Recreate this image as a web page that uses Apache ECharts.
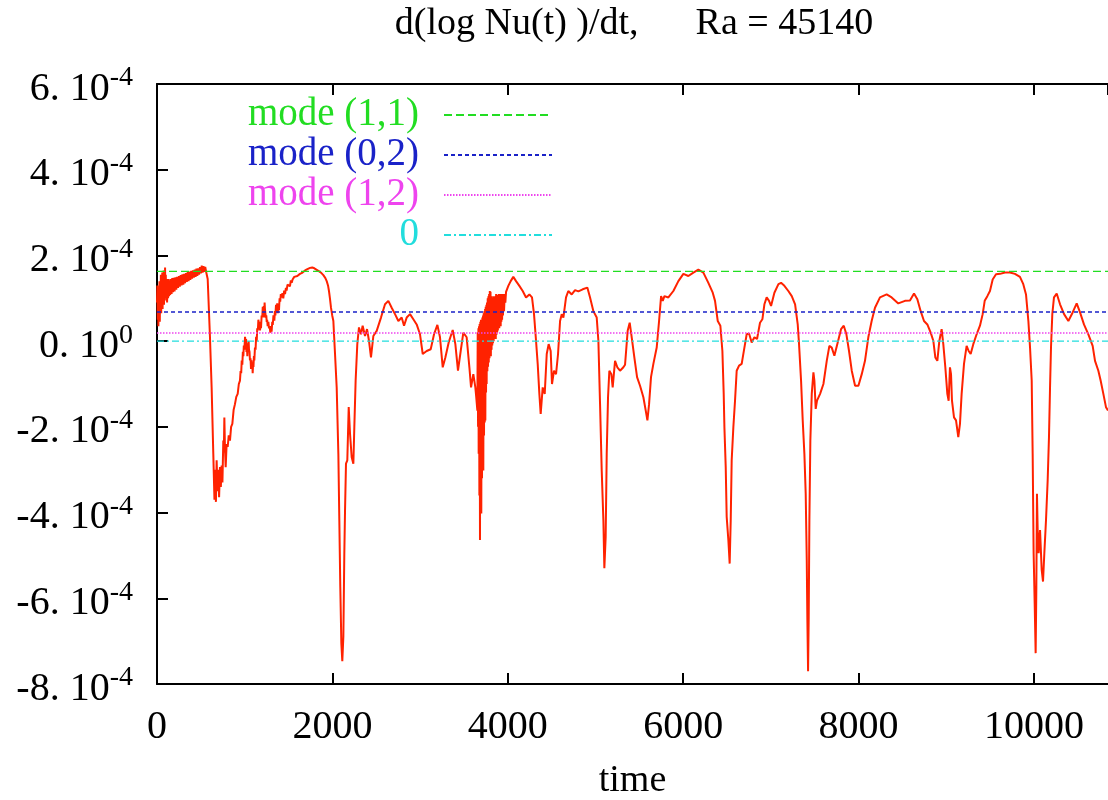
<!DOCTYPE html>
<html>
<head>
<meta charset="utf-8">
<title>d(log Nu(t) )/dt</title>
<script src="https://cdn.jsdelivr.net/npm/echarts@6/dist/echarts.min.js"></script>
<style>
  * { margin: 0; padding: 0; }
  body { background: #fff; }
  #main { width: 1108px; height: 800px; }
</style>
</head>
<body>
<div id="main"></div>
<script>
// [time, d(log Nu)/dt in units of 1e-4]
let nuCurve = [
  [0, 0.9], [4, 1.3], [8, 0.5], [12, 1.2], [16, 0.35], [20, 1.05], [24, 0.6], [28, 1.4], [32, 0.45], [36, 1.3],
  [40, 0.7], [44, 1.55], [48, 0.65], [52, 1.45], [56, 0.8], [60, 1.6], [64, 0.75], [68, 1.5], [72, 0.9], [76, 1.65],
  [80, 0.85], [84, 1.5], [88, 1.0], [92, 1.72], [96, 1.0], [100, 1.55], [105, 0.95], [110, 1.45], [115, 0.9], [120, 1.4],
  [126, 1.0], [132, 1.45], [138, 1.05], [144, 1.42], [150, 1.08], [158, 1.45], [166, 1.1], [174, 1.47], [182, 1.14],
  [190, 1.48], [200, 1.16], [210, 1.49], [220, 1.2], [230, 1.5], [240, 1.24], [250, 1.52], [260, 1.27], [270, 1.54],
  [280, 1.3], [290, 1.56], [300, 1.32], [310, 1.57], [320, 1.35], [330, 1.59], [340, 1.38], [350, 1.61], [360, 1.4],
  [370, 1.62], [380, 1.43], [390, 1.64], [400, 1.46], [410, 1.65], [420, 1.48], [430, 1.67], [440, 1.5], [450, 1.69],
  [460, 1.52], [470, 1.7], [480, 1.55], [490, 1.73], [500, 1.58], [510, 1.76], [520, 1.6], [530, 1.75], [540, 1.62],
  [550, 1.73], [560, 1.62], [570, 1.58], [578, 1.45],
  [604, 0.09], [623, -1.08], [642, -2.63], [655, -3.7], [664, -3.0], [672, -3.75], [680, -2.78], [690, -3.5],
  [699, -3.0], [708, -3.64], [718, -2.94], [728, -3.4], [737, -2.9], [746, -3.3], [756, -2.32], [762, -2.6],
  [768, -1.78], [775, -2.5], [783, -2.94], [794, -2.4], [806, -2.47], [818, -2.2], [832, -2.32], [845, -2.0],
  [859, -1.93], [874, -1.6], [889, -1.47], [904, -1.3], [920, -1.23], [933, -1.0], [946, -0.92], [953, -0.7],
  [960, -0.75], [966, -0.45], [973, -0.55], [979, -0.25], [985, -0.35], [990, -0.1], [996, -0.2], [1004, 0.1],
  [1011, -0.05], [1016, 0.05], [1020, -0.25], [1025, -0.1], [1030, -0.35], [1035, -0.05], [1040, -0.1], [1045, 0.0],
  [1049, -0.2], [1055, -0.25], [1060, -0.45], [1066, -0.4], [1072, -0.65], [1077, -0.45], [1082, -0.6], [1087, -0.55],
  [1091, -0.75], [1096, -0.5], [1100, -0.6], [1105, -0.35], [1110, -0.45], [1117, -0.15], [1124, -0.2], [1130, 0.1],
  [1137, 0.0], [1143, 0.3], [1150, 0.25], [1156, 0.5], [1163, 0.4], [1169, 0.45], [1175, 0.25], [1180, 0.45],
  [1186, 0.3], [1193, 0.6], [1200, 0.55], [1206, 0.8], [1213, 0.7], [1218, 0.82], [1222, 0.55], [1227, 0.9],
  [1231, 0.75], [1236, 0.75], [1241, 0.55], [1246, 0.6], [1251, 0.45], [1256, 0.5], [1262, 0.35], [1270, 0.45],
  [1277, 0.3], [1285, 0.35], [1292, 0.2], [1300, 0.35], [1307, 0.22], [1314, 0.45], [1320, 0.38], [1328, 0.6],
  [1338, 0.48], [1344, 0.7], [1350, 0.6], [1357, 0.85], [1365, 0.78], [1371, 0.88], [1378, 0.65], [1385, 0.82],
  [1391, 0.72], [1398, 1.0], [1405, 0.92], [1412, 1.1], [1422, 1.02], [1430, 1.12], [1440, 1.0], [1450, 1.18],
  [1460, 1.1], [1470, 1.24], [1478, 1.18], [1488, 1.32], [1497, 1.28], [1506, 1.36], [1516, 1.28], [1526, 1.42],
  [1536, 1.36], [1546, 1.44], [1555, 1.4], [1565, 1.5], [1574, 1.46], [1600, 1.52], [1630, 1.57], [1660, 1.6],
  [1688, 1.65], [1715, 1.68], [1745, 1.71], [1770, 1.72], [1794, 1.7], [1815, 1.68], [1840, 1.64], [1870, 1.6],
  [1897, 1.54], [1920, 1.47], [1935, 1.4], [1950, 1.3], [1961, 1.17], [1972, 1.0], [1984, 0.78], [1998, 0.6],
  [2011, 0.47], [2020, 0.1], [2030, -0.3], [2049, -1.08], [2068, -2.63], [2079, -4.18], [2090, -5.73], [2102, -7.05],
  [2113, -7.47], [2125, -6.89], [2136, -4.95], [2144, -3.95], [2155, -2.86], [2170, -2.78], [2186, -1.54], [2201, -2.16],
  [2220, -2.71], [2239, -2.86], [2250, -2.01], [2265, -0.92], [2284, -0.07], [2303, 0.32], [2326, 0.16], [2345, 0.36],
  [2372, 0.12], [2395, 0.28], [2417, 0.01], [2440, -0.38], [2467, 0.12], [2505, 0.24], [2554, 0.55], [2600, 0.86],
  [2638, 0.94], [2657, 0.9], [2676, 0.78], [2714, 0.63], [2752, 0.47], [2790, 0.55], [2817, 0.36], [2847, 0.55],
  [2885, 0.63], [2923, 0.51], [2961, 0.39], [2999, 0.16], [3030, -0.3], [3075, -0.23], [3121, -0.19], [3159, 0.16],
  [3197, 0.38], [3227, 0.09], [3258, -0.61], [3288, -0.38], [3326, -0.03], [3372, 0.26], [3402, -0.07], [3432, -0.69],
  [3463, -0.23], [3493, 0.2], [3531, 0.09], [3562, -0.61], [3581, -1.08], [3607, -0.77], [3630, -1.08], [3640, -1.3],
  [3653, -1.62], [3657, 0.2], [3661, -2.0], [3665, 0.3], [3668, -2.63], [3672, 0.35], [3676, -3.6], [3679, 0.4],
  [3683, -4.64], [3687, 0.45], [3691, -3.8], [3694, 0.5], [3698, -4.02], [3702, 0.5], [3706, -3.2], [3710, 0.55],
  [3714, -2.9], [3718, 0.6], [3721, -3.02], [3725, 0.65], [3729, -2.2], [3733, 0.7], [3737, -1.9], [3741, 0.75],
  [3744, -1.85], [3748, 0.8], [3752, -1.2], [3756, 0.85], [3759, -1.0], [3763, 0.9], [3767, -0.7], [3771, 1.0],
  [3775, -0.6], [3779, 1.05], [3783, -0.5], [3787, 1.1], [3791, -0.4], [3795, 1.17], [3799, -0.3], [3803, 1.15],
  [3807, -0.35], [3811, 1.0], [3815, -0.2], [3819, 1.05], [3823, -0.1], [3827, 1.0], [3831, -0.05], [3835, 1.0],
  [3839, 0.0], [3843, 1.05], [3847, 0.05], [3851, 0.95], [3855, 0.1], [3859, 1.05], [3863, 0.05], [3867, 1.1],
  [3871, 0.15], [3875, 1.05], [3879, 0.2], [3883, 1.08], [3887, 0.25], [3891, 1.05], [3895, 0.3], [3899, 1.1],
  [3903, 0.3], [3907, 1.05], [3911, 0.4], [3915, 1.1], [3919, 0.35], [3923, 1.05], [3927, 0.45], [3931, 1.1],
  [3935, 0.5], [3940, 1.05], [3945, 0.6], [3950, 1.1], [3957, 0.7], [3965, 1.1], [3972, 0.9], [3980, 1.15],
  [4006, 1.29], [4033, 1.4], [4063, 1.5], [4094, 1.4], [4132, 1.29], [4170, 1.17], [4208, 1.02], [4246, 1.09],
  [4276, 1.02], [4299, 0.63], [4322, 0.01], [4341, -0.53], [4360, -1.23], [4375, -1.7], [4398, -1.08], [4421, -1.23],
  [4444, -0.3], [4466, -0.07], [4489, -0.23], [4504, -1.0], [4527, -0.69], [4550, -0.77], [4573, -0.3], [4596, 0.47],
  [4615, 0.63], [4634, 0.55], [4664, 1.02], [4690, 1.17], [4729, 1.09], [4767, 1.19], [4805, 1.16], [4854, 1.21],
  [4907, 1.25], [4938, 1.02], [4976, 0.7], [5014, 0.55], [5033, 0.01], [5052, -1.47], [5071, -3.02], [5090, -4.18],
  [5101, -5.3], [5116, -4.57], [5128, -2.63], [5143, -1.31], [5158, -0.69], [5181, -0.77], [5196, -1.08], [5223, -0.46],
  [5249, -0.61], [5280, -0.69], [5318, -0.61], [5337, -0.55], [5367, 0.24], [5390, 0.43], [5413, 0.09], [5443, -0.38],
  [5474, -0.84], [5508, -1.04], [5546, -1.31], [5573, -1.62], [5592, -1.85], [5611, -1.47], [5633, -0.84], [5660, -0.53],
  [5698, -0.15], [5725, 0.47], [5748, 1.05], [5767, 0.94], [5786, 1.05], [5831, 1.02], [5888, 1.17], [5945, 1.4],
  [6002, 1.57], [6059, 1.52], [6116, 1.6], [6173, 1.67], [6230, 1.6], [6287, 1.36], [6337, 1.13], [6363, 0.94],
  [6394, 0.47], [6424, 0.36], [6447, -0.23], [6462, -1.23], [6470, -2.01], [6485, -2.94], [6496, -4.1], [6515, -4.64],
  [6530, -5.19], [6542, -4.18], [6553, -2.78], [6572, -2.01], [6591, -1.39], [6610, -0.69], [6637, -0.57], [6667, -0.53],
  [6698, -0.15], [6724, 0.16], [6751, 0.18], [6781, -0.03], [6812, 0.09], [6842, 0.05], [6876, 0.43], [6903, 0.51],
  [6926, 0.86], [6952, 1.02], [6979, 0.94], [7002, 0.82], [7040, 1.13], [7086, 1.33], [7116, 1.36], [7154, 1.29],
  [7199, 1.17], [7238, 1.05], [7276, 0.86], [7306, 0.39], [7321, -0.07], [7344, -0.92], [7363, -1.85], [7382, -2.63],
  [7397, -3.56], [7409, -5.11], [7416, -6.5], [7424, -7.7], [7431, -6.5], [7439, -4.18], [7450, -2.32], [7466, -1.23],
  [7485, -0.73], [7496, -0.92], [7511, -1.58], [7526, -1.39], [7561, -1.23], [7599, -1.0], [7637, -0.46], [7667, -0.11],
  [7694, -0.15], [7724, -0.34], [7762, -0.03], [7800, 0.28], [7831, 0.36], [7861, 0.16], [7891, -0.23], [7922, -0.69],
  [7960, -1.04], [7998, -1.04], [8036, -0.77], [8073, -0.46], [8111, 0.09], [8149, 0.47], [8187, 0.78], [8244, 1.02],
  [8320, 1.09], [8377, 1.02], [8453, 0.88], [8529, 0.94], [8586, 0.95], [8632, 1.11], [8670, 0.98], [8708, 0.7],
  [8746, 0.47], [8784, 0.39], [8822, 0.2], [8852, 0.01], [8875, -0.38], [8898, -0.46], [8921, 0.01], [8947, 0.28],
  [8966, -0.07], [8989, -0.61], [9012, -1.23], [9027, -1.39], [9042, -0.61], [9054, -0.77], [9065, -1.39], [9088, -1.78],
  [9111, -1.85], [9137, -2.24], [9156, -1.93], [9175, -1.23], [9202, -0.53], [9232, -0.11], [9255, -0.23], [9278, -0.3],
  [9308, -0.07], [9346, 0.16], [9384, 0.36], [9415, 0.63], [9438, 0.94], [9468, 1.05], [9498, 1.17], [9529, 1.44],
  [9567, 1.56], [9613, 1.57], [9669, 1.6], [9726, 1.6], [9783, 1.57], [9840, 1.5], [9878, 1.33], [9909, 1.09],
  [9936, 0.47], [9955, -0.15], [9974, -0.92], [9985, -2.63], [9996, -4.95], [10008, -6.12], [10019, -7.28], [10027, -5.73],
  [10034, -3.56], [10042, -4.41], [10053, -4.95], [10069, -4.41], [10088, -5.34], [10103, -5.61], [10118, -4.95], [10137, -4.18],
  [10156, -3.25], [10171, -2.24], [10183, -1.08], [10194, -0.15], [10209, 0.63], [10228, 1.02], [10259, 1.11], [10297, 0.86],
  [10343, 0.63], [10392, 0.47], [10441, 0.67], [10487, 0.88], [10525, 0.67], [10570, 0.39], [10620, 0.16], [10669, -0.11],
  [10696, -0.46], [10734, -0.69], [10760, -0.92], [10791, -1.23], [10821, -1.54], [10844, -1.62]
];

// horizontal reference levels (units of 1e-4)
let modeNames = ['mode (1,1)', 'mode (0,2)', 'mode (1,2)', '0'];
let modeLevelsE4 = [1.63, 0.68, 0.19, 0];
let modeColors = ['#22dd22', '#1a22c8', '#ee44ee', '#22dddd'];
let modeDashes = [[8, 4], [4, 3], [1.5, 1.5], [7, 3, 2, 3]];

let timeMax = 10844;
let xTicks = [0, 2000, 4000, 6000, 8000, 10000];

const serif = 'Liberation Serif';
const myChart = echarts.init(document.getElementById('main'));

const curve = nuCurve.map(p => [p[0], p[1] * 1e-4]);

const levelSeries = modeNames.map((name, i) => ({
  name: name,
  type: 'line',
  data: [[0, modeLevelsE4[i] * 1e-4], [timeMax, modeLevelsE4[i] * 1e-4]],
  symbol: 'none',
  silent: true,
  z: 5,
  lineStyle: { color: modeColors[i], width: 1.3, type: modeDashes[i] },
  itemStyle: { color: modeColors[i] }
}));

const legendRows = [95, 135, 175, 215];
const legends = modeNames.map((name, i) => ({
  data: [{ name: name, textStyle: { color: modeColors[i] } }],
  orient: 'vertical',
  align: 'right',
  right: 555,
  top: legendRows[i],
  padding: 0,
  itemWidth: 108,
  itemHeight: 14,
  itemGap: 0,
  selectedMode: false,
  itemStyle: { opacity: 0 },
  textStyle: { fontFamily: serif, fontSize: 39, lineHeight: 40, padding: [0, 20, 0, 0] }
}));

function yLabel(v) {
  const m = Math.round(v * 1e4);
  if (m === 0) return '{b|0. 10}{s|0}';
  return '{b|' + m + '. 10}{s|-4}';
}

const axisLineStyle = { color: '#000', width: 2 };

const option = {
  backgroundColor: '#ffffff',
  animation: false,
  title: {
    text: 'd(log Nu(t) )/dt,      Ra = 45140',
    left: 634,
    top: 2,
    padding: 0,
    textAlign: 'center',
    textStyle: { fontFamily: serif, fontSize: 38, fontWeight: 'normal', color: '#000', lineHeight: 44 }
  },
  legend: legends,
  grid: { left: 157, right: 0, top: 84, bottom: 116, outerBoundsMode: 'none' },
  xAxis: [{
    type: 'value',
    min: 0,
    max: timeMax,
    interval: 2000,
    name: 'time',
    nameLocation: 'middle',
    nameGap: 78,
    nameTextStyle: { fontFamily: serif, fontSize: 38, color: '#000' },
    axisLine: { show: true, onZero: false, lineStyle: axisLineStyle },
    axisTick: { show: true, inside: true, length: 11, lineStyle: axisLineStyle },
    axisLabel: {
      margin: 23,
      fontFamily: serif, fontSize: 40, color: '#000',
      showMaxLabel: false,
      formatter: v => (xTicks.indexOf(v) >= 0 ? String(v) : '')
    },
    splitLine: { show: false }
  }, {
    type: 'value',
    position: 'top',
    min: 0,
    max: timeMax,
    interval: 2000,
    axisLine: { show: true, onZero: false, lineStyle: axisLineStyle },
    axisTick: { show: true, inside: true, length: 11, lineStyle: axisLineStyle },
    axisLabel: { show: false },
    splitLine: { show: false }
  }],
  yAxis: {
    type: 'value',
    min: -8e-4,
    max: 6e-4,
    interval: 2e-4,
    axisLine: { show: true, onZero: false, lineStyle: axisLineStyle },
    axisTick: { show: true, inside: true, length: 11, lineStyle: axisLineStyle },
    axisLabel: {
      margin: 24,
      formatter: yLabel,
      rich: {
        b: { fontFamily: serif, fontSize: 40, color: '#000', lineHeight: 40, padding: [10, 0, 0, 0] },
        s: { fontFamily: serif, fontSize: 28, color: '#000', lineHeight: 28, verticalAlign: 'top' }
      }
    },
    splitLine: { show: false }
  },
  series: [{
    name: 'dlogNu',
    type: 'line',
    data: curve,
    symbol: 'none',
    silent: true,
    z: 3,
    lineStyle: { color: '#ff2200', width: 2 }
  }].concat(levelSeries)
};

myChart.setOption(option);
</script>
</body>
</html>
